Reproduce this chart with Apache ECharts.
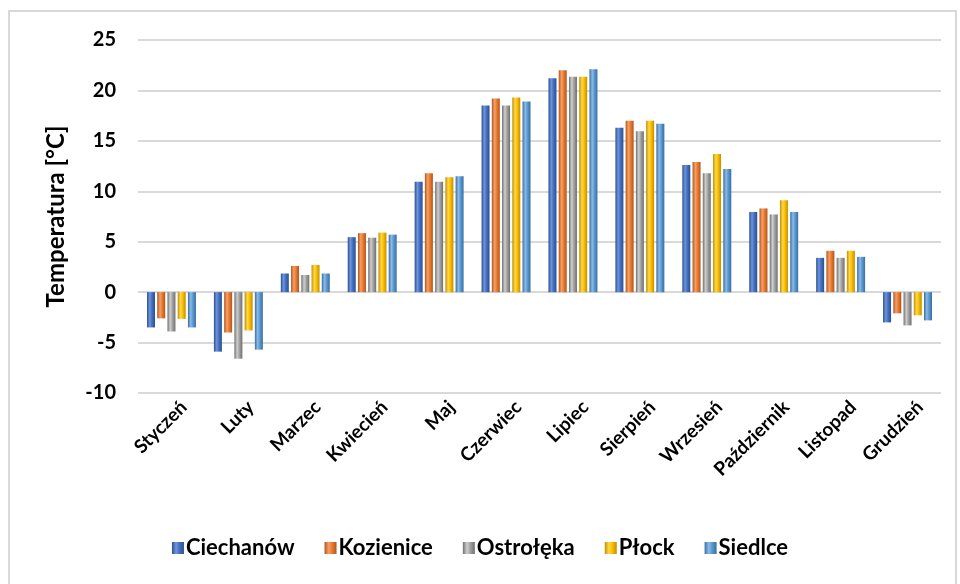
<!DOCTYPE html>
<html>
<head>
<meta charset="utf-8">
<script src="https://cdn.jsdelivr.net/npm/echarts@6/dist/echarts.min.js"></script>
<style>
  html, body { margin: 0; padding: 0; background: #fff; }
  #chart { width: 960px; height: 584px; }
</style>
</head>
<body>
<div id="chart"></div>
<script>
const months = ["Styczeń", "Luty", "Marzec", "Kwiecień", "Maj", "Czerwiec",
  "Lipiec", "Sierpień", "Wrzesień", "Październik", "Listopad", "Grudzień"];
const ciechanow = [-3.5, -5.9, 1.85, 5.45, 10.95, 18.5, 21.2, 16.3, 12.6, 7.95, 3.4, -3.0];
const kozienice = [-2.6, -4.0, 2.6, 5.85, 11.8, 19.2, 22.0, 17.0, 12.9, 8.3, 4.1, -2.1];
const ostroleka = [-3.9, -6.6, 1.7, 5.4, 10.95, 18.5, 21.35, 15.95, 11.8, 7.7, 3.4, -3.3];
const plock = [-2.65, -3.8, 2.7, 5.9, 11.4, 19.3, 21.35, 17.0, 13.7, 9.1, 4.1, -2.3];
const siedlce = [-3.5, -5.7, 1.85, 5.7, 11.5, 18.9, 22.1, 16.7, 12.2, 7.95, 3.5, -2.8];

const names = ["Ciechanów", "Kozienice", "Ostrołęka", "Płock", "Siedlce"];
const values = [ciechanow, kozienice, ostroleka, plock, siedlce];
// base, dark edge, light highlight
const colors = [
  ["#4472C4", "#2c4f8f", "#6f95db"],
  ["#ED7D31", "#b0561b", "#f4a06a"],
  ["#A5A5A5", "#6f6f6f", "#cfcfcf"],
  ["#FFC000", "#c08f00", "#ffd84d"],
  ["#5B9BD5", "#3a6e9e", "#8cbbe6"],
];

function shade(c) {
  return new echarts.graphic.LinearGradient(0, 0, 1, 0, [
    { offset: 0, color: c[1] },
    { offset: 0.35, color: c[2] },
    { offset: 0.6, color: c[0] },
    { offset: 1, color: c[1] },
  ]);
}

const font = "Lato, 'Open Sans', sans-serif";
const chart = echarts.init(document.getElementById("chart"));

chart.setOption({
  animation: false,
  textStyle: { fontFamily: font },
  graphic: [{
    type: "rect",
    shape: { x: 9, y: 11, width: 947, height: 600 },
    style: { fill: "none", stroke: "#d9d9d9", lineWidth: 2 },
    silent: true,
  }],
  grid: { left: 138, right: 19, top: 40, bottom: 191 },
  legend: {
    bottom: 20,
    left: "center",
    itemWidth: 12,
    itemHeight: 12,
    itemGap: 30,
    icon: "rect",
    textStyle: { fontFamily: font, fontWeight: "bold", fontSize: 22, color: "#000", padding: [0, 0, 0, -3] },
  },
  xAxis: {
    type: "category",
    data: months,
    axisLine: { show: false, onZero: false },
    axisTick: { show: false },
    axisLabel: {
      interval: 0,
      rotate: 45,
      margin: 10,
      verticalAlign: "top",
      padding: [0, -8, 0, 0],
      fontFamily: font,
      fontWeight: "bold",
      fontSize: 19,
      color: "#000",
    },
  },
  yAxis: {
    type: "value",
    min: -10,
    max: 25,
    interval: 5,
    name: "Temperatura [°C]",
    nameLocation: "middle",
    nameGap: 70,
    nameTextStyle: { fontFamily: font, fontWeight: "bold", fontSize: 24, color: "#000" },
    axisLine: { show: false },
    axisTick: { show: false },
    axisLabel: { margin: 22, fontFamily: font, fontWeight: "bold", fontSize: 20, color: "#000" },
    splitLine: { lineStyle: { color: "#d9d9d9", width: 2 } },
  },
  series: names.map((n, i) => ({
    name: n,
    type: "bar",
    data: values[i],
    barWidth: 8,
    barGap: "28%",
    itemStyle: { color: shade(colors[i]) },
  })),
});
</script>
</body>
</html>
